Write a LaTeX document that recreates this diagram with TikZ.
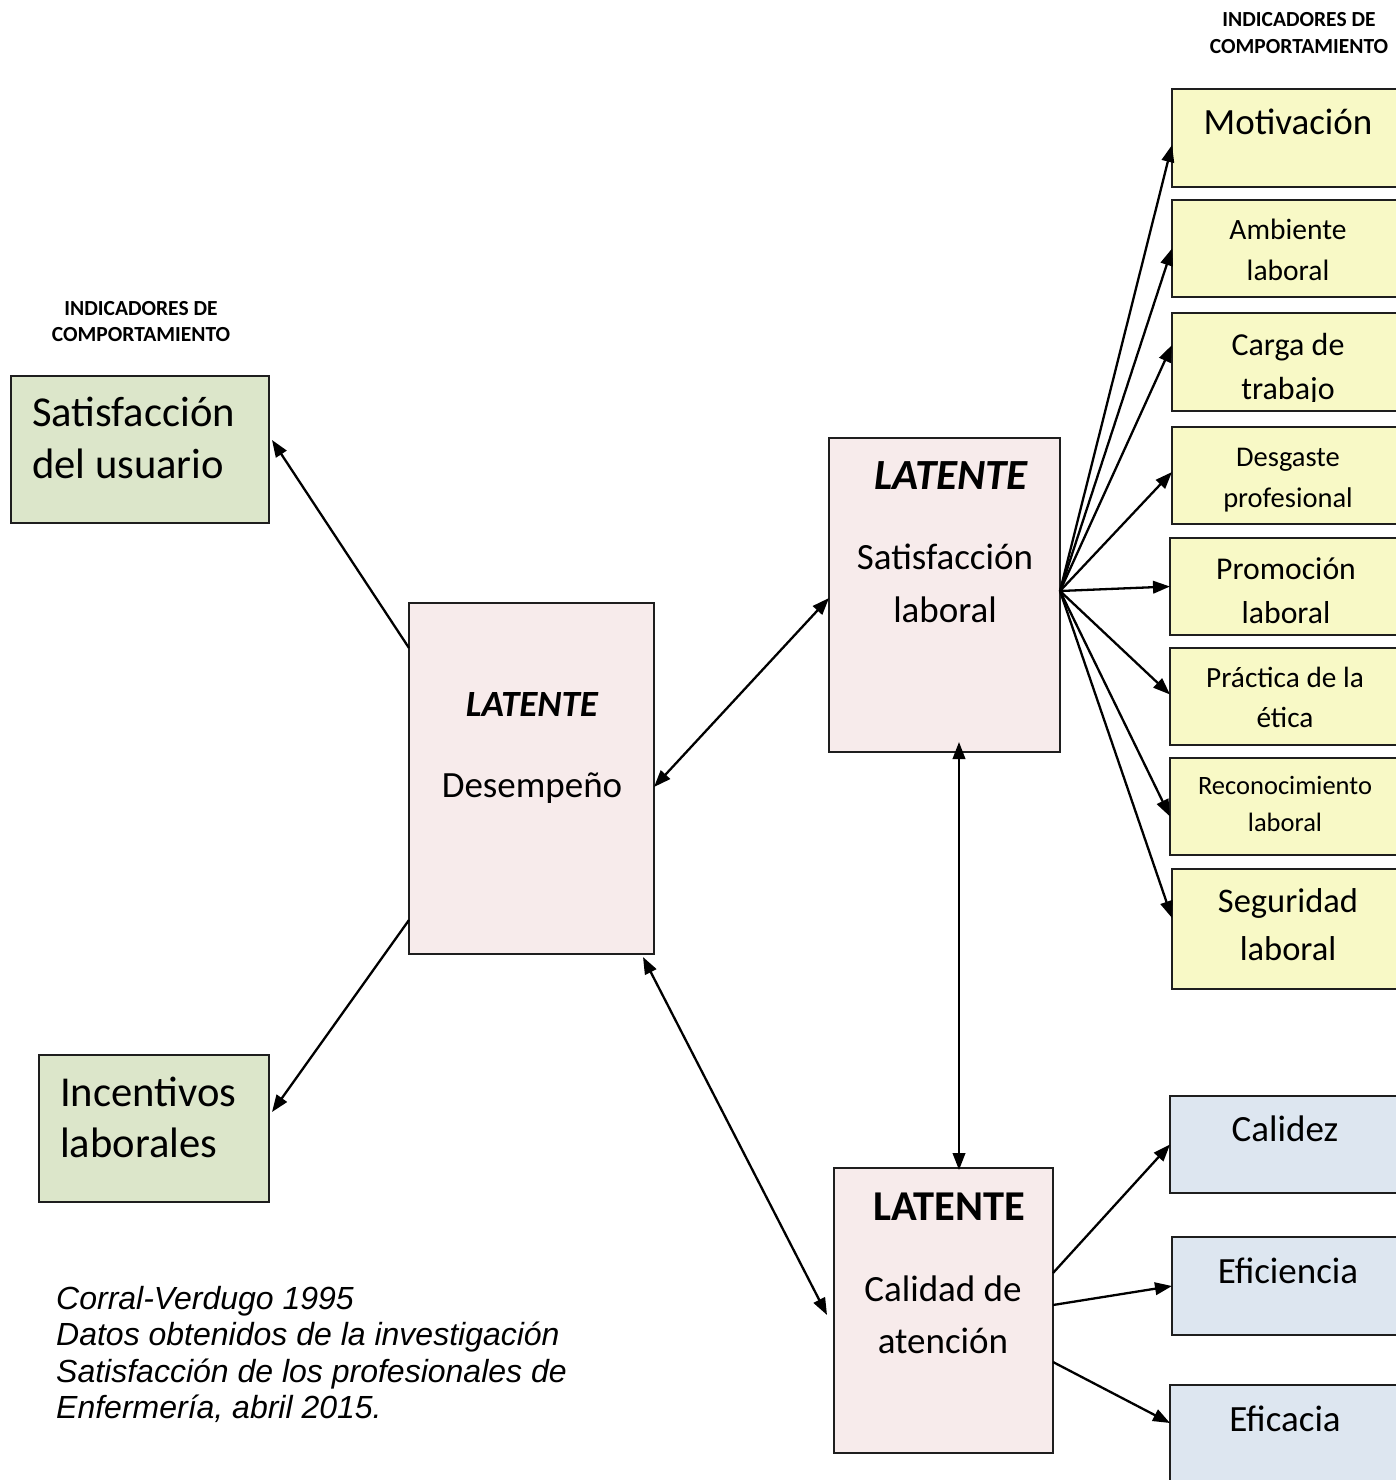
\documentclass[tikz,border=0pt]{standalone}
\usepackage{fontspec}
\setmainfont{Carlito}
\newfontfamily\arialf{Liberation Sans}
\usetikzlibrary{arrows.meta}
\definecolor{yel}{HTML}{F8F9C6}
\definecolor{grn}{HTML}{DCE6CA}
\definecolor{pnk}{HTML}{F7EBEB}
\definecolor{blu}{HTML}{DDE6F0}
\definecolor{edgec}{HTML}{1E1E1E}
\newcommand\fsz[1]{\fontsize{#1}{#1}\selectfont}
\begin{document}
\begin{tikzpicture}[x=1pt,y=-1pt,
  box/.style={draw=edgec, line width=2pt, anchor=north west, inner sep=0pt, outer sep=0pt},
  ybox/.style={box, fill=yel, minimum width=232pt},
  bbox/.style={box, fill=blu, minimum width=232pt},
  gbox/.style={box, fill=grn},
  pbox/.style={box, fill=pnk},
  txt/.style={anchor=base, inner sep=0pt, font=\fsz{#1}},
  ltxt/.style={anchor=base west, inner sep=0pt, font=\fsz{#1}},
  hdr/.style={anchor=base, inner sep=0pt, font=\bfseries\fsz{21.5}},
  foot/.style={anchor=base west, inner sep=0pt, font=\arialf\itshape\fsz{32}},
  tip/.tip={Triangle[length=17pt,width=12.5pt]},
  arr/.style={line width=2.3pt, draw=black, -tip},
  darr/.style={line width=2.3pt, draw=black, tip-tip}
]
\useasboundingbox (0,0) rectangle (1396,1480);

% headers
\node[hdr] (hr1) at (1299,27) {INDICADORES DE};
\node[hdr] (hr2) at (1299,53) {COMPORTAMIENTO};
\node[hdr] (hl1) at (141,315) {INDICADORES DE};
\node[hdr] (hl2) at (141,341) {COMPORTAMIENTO};

% right yellow boxes
\node[ybox, minimum height=98pt] (mot) at (1172,89) {};
\node[ybox, minimum height=97pt] (amb) at (1172,200) {};
\node[ybox, minimum height=98pt] (car) at (1172,313) {};
\node[ybox, minimum height=97pt] (des) at (1172,427) {};
\node[ybox, minimum height=97pt] (pro) at (1170,538) {};
\node[ybox, minimum height=97pt] (pra) at (1170,648) {};
\node[ybox, minimum height=97pt] (rec) at (1170,758) {};
\node[ybox, minimum height=120pt] (seg) at (1172,869) {};

\node[txt=37] (tmot) at (1288,134) {Motivación};
\node[txt=29.5] (tamb1) at (1288,239) {Ambiente};
\node[txt=29.5] (tamb2) at (1288,280) {laboral};
\node[txt=32] (tcar1) at (1288,355) {Carga de};
\begin{scope}
  \clip ([yshift=-1pt]car.north west) rectangle ([yshift=10pt]car.south east);
  \node[txt=32] (tcar2) at (1288,399) {trabajo};
\end{scope}
\node[txt=28.5] (tdes1) at (1288,466) {Desgaste};
\node[txt=28.5] (tdes2) at (1288,507) {profesional};
\node[txt=31.7] (tpro1) at (1286,579) {Promoción};
\node[txt=31.7] (tpro2) at (1286,623) {laboral};
\node[txt=29.3] (tpra1) at (1285,687) {Práctica de la};
\node[txt=29.3] (tpra2) at (1285,727) {ética};
\node[txt=26.5] (trec1) at (1285,794) {Reconocimiento};
\node[txt=26.5] (trec2) at (1285,831) {laboral};
\node[txt=34.5] (tseg1) at (1288,912) {Seguridad};
\node[txt=34.5] (tseg2) at (1288,960) {laboral};

% right blue boxes
\node[bbox, minimum height=97pt] (cal) at (1170,1096) {};
\node[bbox, minimum height=98pt] (efi) at (1172,1237) {};
\node[bbox, minimum height=100pt] (efc) at (1170,1385) {};
\node[txt=37] (tcal) at (1285,1141) {Calidez};
\node[txt=37] (tefi) at (1288,1283) {Eficiencia};
\node[txt=37] (tefc) at (1285,1431) {Eficacia};

% left green boxes
\node[gbox, minimum width=258pt, minimum height=147pt] (usu) at (11,376) {};
\node[ltxt=42.6] (tusu1) at (32,426) {Satisfacción};
\node[ltxt=42.6] (tusu2) at (32,478) {del usuario};
\node[gbox, minimum width=230pt, minimum height=147pt] (inc) at (39,1055) {};
\node[ltxt=42.6] (tinc1) at (60,1106) {Incentivos};
\node[ltxt=42.6] (tinc2) at (60,1157) {laborales};

% latent boxes
\node[pbox, minimum width=245pt, minimum height=351pt] (dsp) at (409,603) {};
\node[txt=37, font=\bfseries\itshape\fsz{37}] (tdsp1) at (532,716) {LATENTE};
\node[txt=37] (tdsp2) at (532,797) {Desempeño};

\node[pbox, minimum width=231pt, minimum height=314pt] (slab) at (829,438) {};
\node[txt=43, font=\bfseries\itshape\fsz{43}] (tslab1) at (951,489) {LATENTE};
\node[txt=37] (tslab2) at (945,569) {Satisfacción};
\node[txt=37] (tslab3) at (945,622) {laboral};

\node[pbox, minimum width=219pt, minimum height=285pt] (catt) at (834,1168) {};
\node[txt=42.5, font=\bfseries\fsz{42.5}] (tcatt1) at (949,1220) {LATENTE};
\node[txt=37] (tcatt2) at (943,1301) {Calidad de};
\node[txt=37] (tcatt3) at (943,1353) {atención};

% footnote
\node[foot] (f1) at (56,1309) {Corral-Verdugo 1995};
\node[foot] (f2) at (56,1345) {Datos obtenidos de la investigación};
\node[foot] (f3) at (56,1382) {Satisfacción de los profesionales de};
\node[foot] (f4) at (56,1418) {Enfermería, abril 2015.};

% connectors: fan from Satisfaccion laboral
\draw[arr] ([yshift=4pt]slab.east) -- ([yshift=-7pt]mot.west);
\draw[arr] ([yshift=4pt]slab.east) -- (amb.west);
\draw[arr] ([yshift=4pt]slab.east) -- ([yshift=17pt]car.west);
\draw[arr] ([yshift=4pt]slab.east) -- ([yshift=3.5pt]des.west);
\draw[arr] ([yshift=4pt]slab.east) -- (pro.west);
\draw[arr] ([yshift=4pt]slab.east) -- ([yshift=2pt]pra.west);
\draw[arr] ([yshift=4pt]slab.east) -- ([yshift=-10pt]rec.west);
\draw[arr] ([yshift=4pt]slab.east) -- ([yshift=11pt]seg.west);

% Desempeno connectors
\draw[arr] ([yshift=-45pt]dsp.north west) -- ([xshift=3pt,yshift=9.5pt]usu.east);
\draw[arr] ([yshift=34pt]dsp.south west) -- ([xshift=3pt,yshift=16.5pt]inc.east);
\draw[darr] ([yshift=-8.5pt]dsp.east) -- ([yshift=-3pt]slab.west);
\draw[darr] ([xshift=-11pt,yshift=-3pt]dsp.south east) -- ([xshift=-7pt,yshift=-4.5pt]catt.west);
\draw[darr] ([xshift=14.5pt,yshift=10pt]slab.south) -- ([xshift=15.5pt,yshift=-2pt]catt.north);

% Calidad connectors
\draw[arr] ([yshift=37.5pt]catt.east) -- (cal.west);
\draw[arr] ([yshift=5.5pt]catt.east) -- (efi.west);
\draw[arr] ([yshift=-51.5pt]catt.east) -- ([yshift=12pt]efc.west);
\end{tikzpicture}
\end{document}
